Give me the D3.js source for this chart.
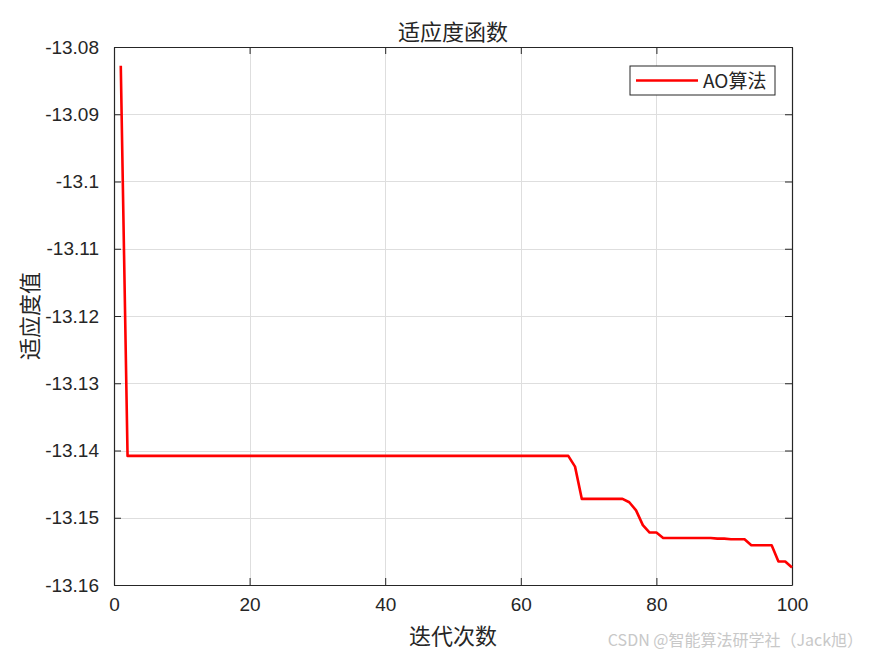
<!DOCTYPE html>
<html>
<head>
<meta charset="utf-8">
<script src="https://cdn.jsdelivr.net/npm/d3@7"></script>
<style>
  body { margin: 0; background: #fff; }
  svg { display: block; }
</style>
</head>
<body>
<div id="chart"></div>
<script>
// data
const iterations = d3.range(1, 101);
const fitness = [
  -13.0828, -13.1408, -13.1408, -13.1408, -13.1408, -13.1408, -13.1408, -13.1408, -13.1408, -13.1408,
  -13.1408, -13.1408, -13.1408, -13.1408, -13.1408, -13.1408, -13.1408, -13.1408, -13.1408, -13.1408,
  -13.1408, -13.1408, -13.1408, -13.1408, -13.1408, -13.1408, -13.1408, -13.1408, -13.1408, -13.1408,
  -13.1408, -13.1408, -13.1408, -13.1408, -13.1408, -13.1408, -13.1408, -13.1408, -13.1408, -13.1408,
  -13.1408, -13.1408, -13.1408, -13.1408, -13.1408, -13.1408, -13.1408, -13.1408, -13.1408, -13.1408,
  -13.1408, -13.1408, -13.1408, -13.1408, -13.1408, -13.1408, -13.1408, -13.1408, -13.1408, -13.1408,
  -13.1408, -13.1408, -13.1408, -13.1408, -13.1408, -13.1408, -13.1408, -13.1424, -13.1472, -13.1472,
  -13.1472, -13.1472, -13.1472, -13.1472, -13.1472, -13.1477, -13.1489, -13.1511, -13.1522, -13.1522,
  -13.1530, -13.1530, -13.1530, -13.1530, -13.1530, -13.1530, -13.1530, -13.1530, -13.1531, -13.1531,
  -13.1532, -13.1532, -13.1532, -13.1541, -13.1541, -13.1541, -13.1541, -13.1565, -13.1565, -13.1574
];
const xTicks = [0, 20, 40, 60, 80, 100];
const yTicks = [-13.08, -13.09, -13.1, -13.11, -13.12, -13.13, -13.14, -13.15, -13.16];
const seriesName = 'AO算法';

const width = 875, height = 656;
const margin = { top: 47, right: 83, bottom: 71, left: 114 };
const cjk = '"Noto Sans CJK SC", sans-serif';
const latin = 'Arial, "Liberation Sans", sans-serif';

const svg = d3.select('#chart').append('svg')
  .attr('width', width).attr('height', height);

const x = d3.scaleLinear().domain([0, 100]).range([margin.left, width - margin.right]);
const y = d3.scaleLinear().domain([-13.16, -13.08]).range([height - margin.bottom, margin.top]);

// grid
const grid = svg.append('g').attr('stroke', '#dedede').attr('stroke-width', 1);
grid.selectAll('.gx').data(xTicks.slice(1, -1)).enter().append('line')
  .attr('x1', d => Math.round(x(d)) + 0.5).attr('x2', d => Math.round(x(d)) + 0.5)
  .attr('y1', margin.top).attr('y2', height - margin.bottom);
grid.selectAll('.gy').data(yTicks.slice(1, -1)).enter().append('line')
  .attr('y1', d => Math.round(y(d)) + 0.5).attr('y2', d => Math.round(y(d)) + 0.5)
  .attr('x1', margin.left).attr('x2', width - margin.right);

// axes
const xAxis = svg.append('g')
  .attr('transform', `translate(0,${height - margin.bottom})`)
  .call(d3.axisBottom(x).tickValues(xTicks).tickSizeInner(-7).tickSizeOuter(0).tickPadding(13));
const yAxis = svg.append('g')
  .attr('transform', `translate(${margin.left},0)`)
  .call(d3.axisLeft(y).tickValues(yTicks).tickSizeInner(-7).tickSizeOuter(0).tickPadding(15)
    .tickFormat(d => String(+d.toFixed(2))));
const xAxisTop = svg.append('g')
  .attr('transform', `translate(0,${margin.top})`)
  .call(d3.axisTop(x).tickValues(xTicks).tickSizeInner(-7).tickSizeOuter(0).tickFormat(''));
const yAxisRight = svg.append('g')
  .attr('transform', `translate(${width - margin.right},0)`)
  .call(d3.axisRight(y).tickValues(yTicks).tickSizeInner(-7).tickSizeOuter(0).tickFormat(''));

[xAxis, yAxis, xAxisTop, yAxisRight].forEach(a => {
  a.select('.domain').attr('stroke', '#262626').attr('stroke-width', 1.2);
  a.selectAll('.tick line').attr('stroke', '#262626');
  a.selectAll('text').attr('fill', '#262626').style('font-family', latin).style('font-size', '19px');
});

// line
const line = d3.line().x((d, i) => x(iterations[i])).y(d => y(d));
svg.append('path')
  .datum(fitness)
  .attr('fill', 'none')
  .attr('stroke', '#ff0000')
  .attr('stroke-width', 2.6)
  .attr('stroke-linejoin', 'round')
  .attr('d', line);

// title and labels
svg.append('text')
  .attr('x', (margin.left + width - margin.right) / 2).attr('y', 40)
  .attr('text-anchor', 'middle')
  .style('font-family', cjk).style('font-size', '22px').attr('fill', '#262626')
  .text('适应度函数');
svg.append('text')
  .attr('x', (margin.left + width - margin.right) / 2).attr('y', 644)
  .attr('text-anchor', 'middle')
  .style('font-family', cjk).style('font-size', '22px').attr('fill', '#262626')
  .text('迭代次数');
svg.append('text')
  .attr('transform', `translate(38,${(margin.top + height - margin.bottom) / 2}) rotate(-90)`)
  .attr('text-anchor', 'middle')
  .style('font-family', cjk).style('font-size', '22px').attr('fill', '#262626')
  .text('适应度值');

// legend
const legend = svg.append('g').attr('transform', 'translate(630,66)');
legend.append('rect')
  .attr('width', 145).attr('height', 29)
  .attr('fill', '#fff').attr('stroke', '#262626').attr('stroke-width', 1);
legend.append('line')
  .attr('x1', 6).attr('x2', 68).attr('y1', 14.5).attr('y2', 14.5)
  .attr('stroke', '#ff0000').attr('stroke-width', 2.6);
legend.append('text')
  .attr('x', 73).attr('y', 21.5)
  .style('font-family', cjk).style('font-size', '19px').attr('fill', '#262626')
  .text(seriesName);

// watermark
svg.append('text')
  .attr('x', 863).attr('y', 646)
  .attr('text-anchor', 'end')
  .style('font-family', cjk).style('font-size', '16px').attr('fill', '#c8c8c8')
  .text('CSDN @智能算法研学社（Jack旭）');
</script>
</body>
</html>
